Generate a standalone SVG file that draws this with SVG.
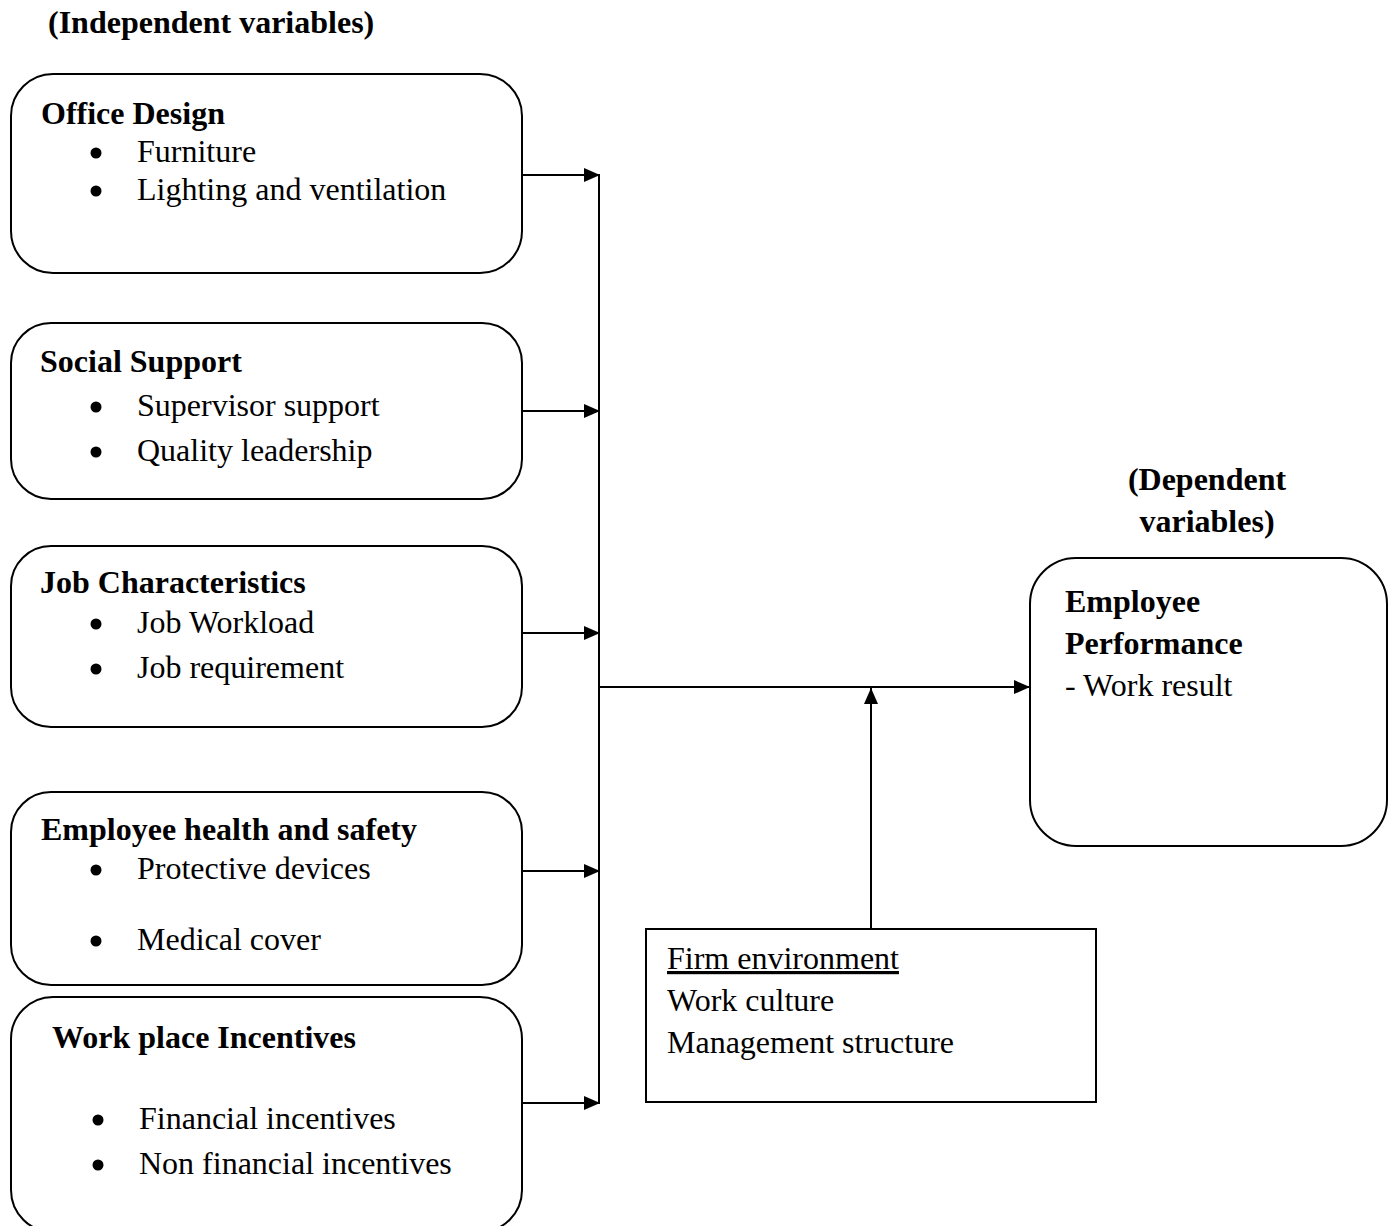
<svg xmlns="http://www.w3.org/2000/svg" width="1395" height="1226" viewBox="0 0 1395 1226">
<style>
.box{fill:#fff;stroke:#000;stroke-width:2}
.ln{fill:none;stroke:#000;stroke-width:2}
.bul{fill:#000}
text{font-family:"Liberation Serif","Times New Roman",serif;font-size:32px;fill:#000}
.b{font-weight:bold}
</style>
<defs>
<marker id="ah" viewBox="0 0 16 14" refX="16" refY="7" markerWidth="16" markerHeight="14" markerUnits="userSpaceOnUse" orient="auto">
<path d="M0,0 L16,7 L0,14 z" fill="#000"/>
</marker>
</defs>
<rect width="1395" height="1226" fill="#fff"/>
<text class="b" x="48" y="33">(Independent variables)</text>
<text class="b" x="1207" y="490" text-anchor="middle">(Dependent</text>
<text class="b" x="1207" y="532" text-anchor="middle">variables)</text>

<g id="connectors">
<line class="ln" x1="599" y1="175" x2="599" y2="1103"/>
<line class="ln" x1="522" y1="175" x2="600" y2="175" marker-end="url(#ah)"/>
<line class="ln" x1="522" y1="411" x2="600" y2="411" marker-end="url(#ah)"/>
<line class="ln" x1="522" y1="633" x2="600" y2="633" marker-end="url(#ah)"/>
<line class="ln" x1="522" y1="871" x2="600" y2="871" marker-end="url(#ah)"/>
<line class="ln" x1="522" y1="1103" x2="600" y2="1103" marker-end="url(#ah)"/>
<line class="ln" x1="599" y1="687" x2="1030" y2="687" marker-end="url(#ah)"/>
<line class="ln" x1="871" y1="929" x2="871" y2="688" marker-end="url(#ah)"/>
</g>

<g id="office-design">
<rect class="box" x="11" y="74" width="511" height="199" rx="42"/>
<text class="b" x="41" y="124">Office Design</text>
<circle class="bul" cx="96" cy="153" r="5.5"/><text x="137" y="162">Furniture</text>
<circle class="bul" cx="96" cy="191" r="5.5"/><text x="137" y="200">Lighting and ventilation</text>
</g>

<g id="social-support">
<rect class="box" x="11" y="323" width="511" height="176" rx="40"/>
<text class="b" x="40" y="372">Social Support</text>
<circle class="bul" cx="96" cy="407" r="5.5"/><text x="137" y="416">Supervisor support</text>
<circle class="bul" cx="96" cy="452" r="5.5"/><text x="137" y="461">Quality leadership</text>
</g>

<g id="job-characteristics">
<rect class="box" x="11" y="546" width="511" height="181" rx="40"/>
<text class="b" x="40" y="593">Job Characteristics</text>
<circle class="bul" cx="96" cy="624" r="5.5"/><text x="137" y="633">Job Workload</text>
<circle class="bul" cx="96" cy="669" r="5.5"/><text x="137" y="678">Job requirement</text>
</g>

<g id="health-safety">
<rect class="box" x="11" y="792" width="511" height="193" rx="40"/>
<text class="b" x="41" y="840">Employee health and safety</text>
<circle class="bul" cx="96" cy="870" r="5.5"/><text x="137" y="879">Protective devices</text>
<circle class="bul" cx="96" cy="941" r="5.5"/><text x="137" y="950">Medical cover</text>
</g>

<g id="incentives">
<rect class="box" x="11" y="997" width="511" height="235" rx="42"/>
<text class="b" x="52" y="1048">Work place Incentives</text>
<circle class="bul" cx="98" cy="1120" r="5.5"/><text x="139" y="1129">Financial incentives</text>
<circle class="bul" cx="98" cy="1165" r="5.5"/><text x="139" y="1174">Non financial incentives</text>
</g>

<g id="firm-environment">
<rect class="box" x="646" y="929" width="450" height="173"/>
<text x="667" y="969" text-decoration="underline">Firm environment</text>
<text x="667" y="1011">Work culture</text>
<text x="667" y="1053">Management structure</text>
</g>

<g id="employee-performance">
<rect class="box" x="1030" y="558" width="357" height="288" rx="46"/>
<text class="b" x="1065" y="612">Employee</text>
<text class="b" x="1065" y="654">Performance</text>
<text x="1065" y="696">- Work result</text>
</g>
</svg>
